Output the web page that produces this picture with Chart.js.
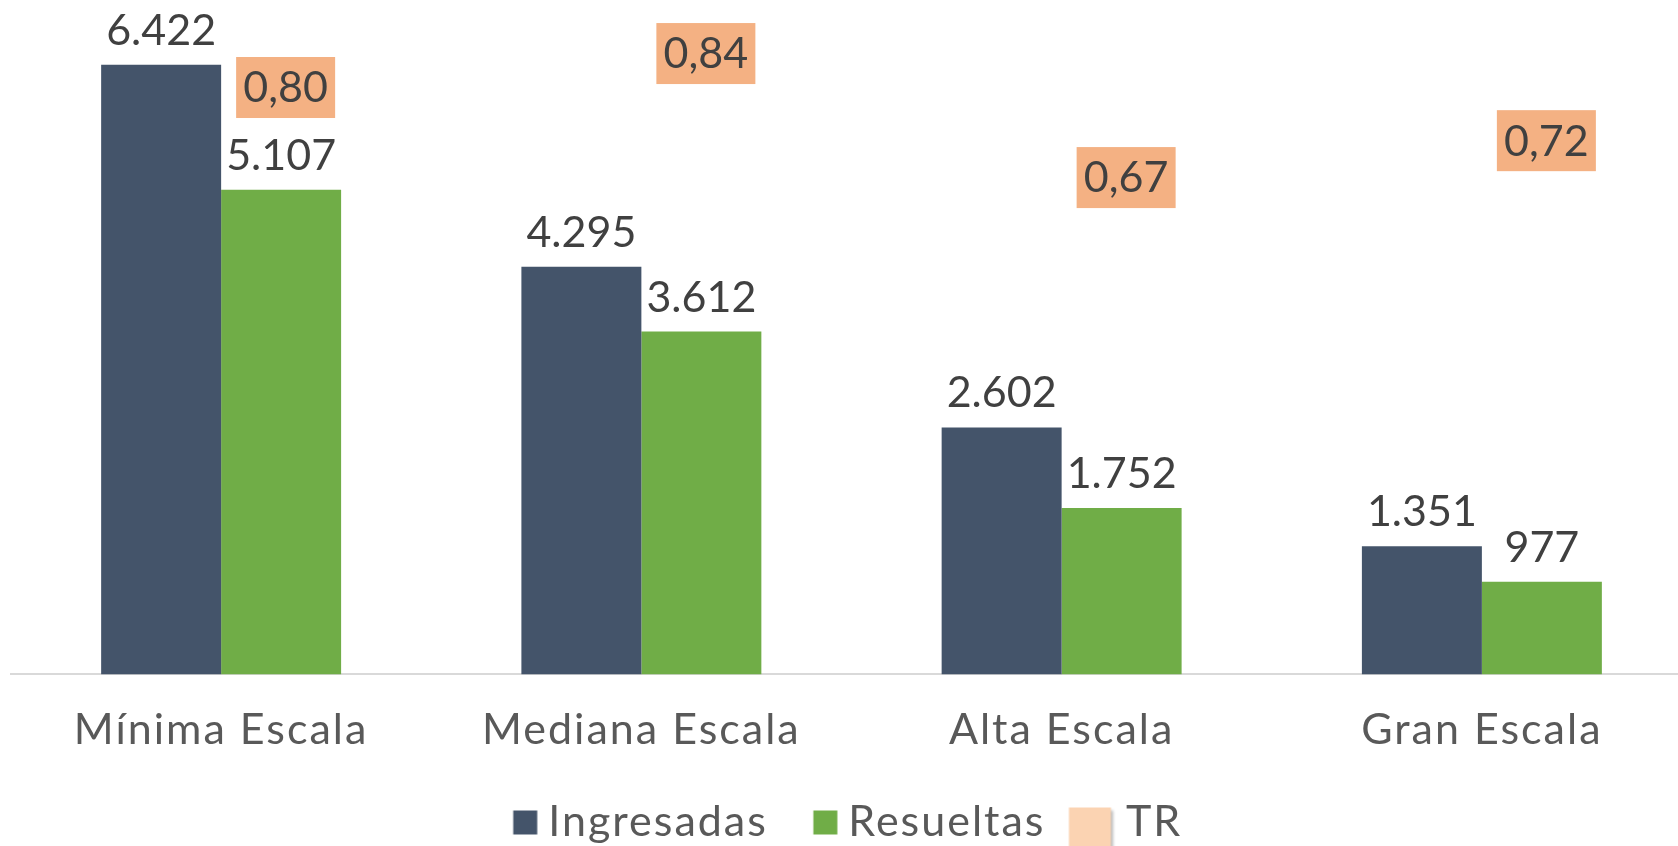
<!DOCTYPE html>
<html>
<head>
<meta charset="utf-8">
<script src="https://cdn.jsdelivr.net/npm/chart.js@4"></script>
<style>
  html, body { margin: 0; padding: 0; overflow: hidden; background: #fff; }
  #wrap { position: absolute; left: 0; top: 0; }
</style>
</head>
<body>
<div id="wrap"><canvas id="myChart" width="1703" height="854"></canvas></div>
<script>
// datos
const categorias = ['Mínima Escala', 'Mediana Escala', 'Alta Escala', 'Gran Escala'];
const ingresadas = [6422, 4295, 2602, 1351];
const resueltas = [5107, 3612, 1752, 977];
const tasaResolucion = [0.795, 0.841, 0.673, 0.723];

const FUENTE = "'Century Gothic', Lato, sans-serif";
const colorIngresadas = '#44546a';
const colorResueltas = '#70ad47';
const colorTR = '#f4b183';
const colorTRLeyenda = '#fbd3b2';

function miles(n) {
    return String(n).replace(/\B(?=(\d{3})+(?!\d))/g, '.');
}

// marcadores de la leyenda (canvas usados como pointStyle)
function cuadro(color, x, y, ancho, alto, sombra) {
    const c = document.createElement('canvas');
    c.width = 70;
    c.height = 70;
    const g = c.getContext('2d');
    if (sombra) {
        g.shadowColor = 'rgba(0,0,0,0.3)';
        g.shadowBlur = 3;
        g.shadowOffsetX = 2;
        g.shadowOffsetY = 3;
    }
    g.fillStyle = color;
    g.fillRect(x, y, ancho, alto);
    return c;
}
const marcaIng = cuadro(colorIngresadas, 43.5, 23, 24, 24, false);
const marcaRes = cuadro(colorResueltas, 43.5, 23, 24, 24, false);
const marcaTR = cuadro(colorTRLeyenda, 21.5, 20, 42, 44, true);

const espaciado = {
    id: 'espaciado',
    afterLayout(chart) {
        // la leyenda del original está algo a la izquierda del centro
        chart.legend.left -= 40;
        chart.legend.right -= 40;
    },
    beforeDraw(chart) {
        chart.ctx.letterSpacing = '2px';
    }
};

const etiquetas = {
    id: 'etiquetas',
    afterDatasetsDraw(chart) {
        const ctx = chart.ctx;
        ctx.save();
        ctx.letterSpacing = '0px';
        ctx.font = '43px ' + FUENTE;
        ctx.fillStyle = '#404040';
        ctx.textAlign = 'center';
        [0, 1].forEach(i => {
            const meta = chart.getDatasetMeta(i);
            meta.data.forEach((bar, j) => {
                ctx.textBaseline = 'alphabetic';
                ctx.fillText(miles(chart.data.datasets[i].data[j]), bar.x, bar.y - 20);
            });
        });
        const metaTR = chart.getDatasetMeta(2);
        metaTR.data.forEach((p, j) => {
            ctx.fillStyle = colorTR;
            ctx.fillRect(p.x + 15, p.y - 30.5, 99, 61);
            ctx.fillStyle = '#404040';
            ctx.textBaseline = 'middle';
            ctx.fillText(tasaResolucion[j].toFixed(2).replace('.', ','), p.x + 64.5, p.y + 1);
        });
        ctx.restore();
    }
};

const ctx = document.getElementById('myChart');

new Chart(ctx, {
    type: 'bar',
    data: {
        labels: categorias,
        datasets: [{
            label: 'Ingresadas',
            data: ingresadas,
            backgroundColor: colorIngresadas,
            yAxisID: 'y',
            order: 2
        }, {
            label: 'Resueltas',
            data: resueltas,
            backgroundColor: colorResueltas,
            yAxisID: 'y',
            order: 2
        }, {
            type: 'line',
            label: 'TR',
            data: tasaResolucion,
            showLine: false,
            pointRadius: 0,
            backgroundColor: colorTRLeyenda,
            yAxisID: 'y1',
            order: 1
        }]
    },
    plugins: [espaciado, etiquetas],
    options: {
        responsive: false,
        animation: false,
        categoryPercentage: 0.571,
        barPercentage: 1,
        layout: { padding: { left: 11, right: 11, top: 10, bottom: 0 } },
        scales: {
            x: {
                grid: { display: false, drawTicks: false },
                border: { display: true, color: '#d9d9d9', width: 2 },
                ticks: {
                    color: '#595959',
                    padding: 30,
                    font: { family: FUENTE, size: 43, lineHeight: 1.2 }
                }
            },
            y: { display: false, min: 0, max: 7000 },
            y1: { display: false, min: 0, max: 0.9 }
        },
        plugins: {
            tooltip: { enabled: false },
            legend: {
                position: 'bottom',
                labels: {
                    color: '#595959',
                    font: { family: FUENTE, size: 43 },
                    padding: 15,
                    usePointStyle: true,
                    pointStyleWidth: 44,
                    generateLabels(chart) {
                        const marcas = [marcaIng, marcaRes, marcaTR];
                        return chart.data.datasets.map((ds, i) => ({
                            text: ds.label,
                            fillStyle: ds.backgroundColor,
                            strokeStyle: ds.backgroundColor,
                            lineWidth: 0,
                            pointStyle: marcas[i],
                            hidden: false,
                            datasetIndex: i,
                            fontColor: '#595959'
                        }));
                    }
                }
            }
        }
    }
});
</script>
</body>
</html>
